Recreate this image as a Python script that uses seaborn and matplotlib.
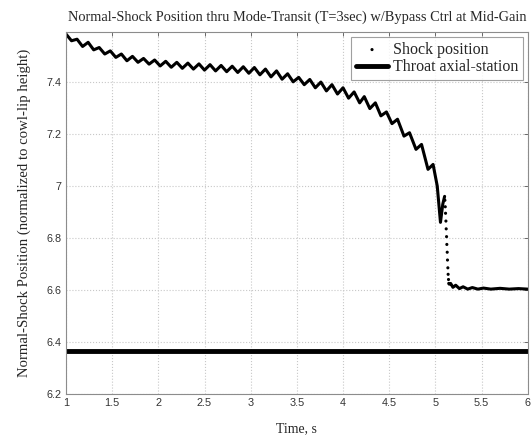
import numpy as np
import pandas as pd
import matplotlib
matplotlib.use("Agg")
import matplotlib.pyplot as plt
import seaborn as sns

# --- data (peaks / troughs of the shock trace)
osc_t = [1.00, 1.06, 1.12, 1.18, 1.24, 1.30, 1.36, 1.42, 1.48, 1.54,
         1.60, 1.66, 1.72, 1.78, 1.84, 1.90, 1.96, 2.02, 2.08, 2.14,
         2.20, 2.26, 2.32, 2.38, 2.44, 2.50, 2.56, 2.62, 2.68, 2.74,
         2.80, 2.86, 2.92, 2.98, 3.04, 3.10, 3.16, 3.22, 3.28, 3.34,
         3.40, 3.46, 3.52, 3.58, 3.64, 3.70, 3.76, 3.82, 3.88, 3.94,
         4.00, 4.06, 4.12, 4.18, 4.23, 4.29, 4.35, 4.41, 4.47, 4.53,
         4.59, 4.66, 4.72, 4.79, 4.85, 4.92, 4.975, 5.02, 5.055, 5.08, 5.10]
osc_y = [7.585, 7.559, 7.565, 7.537, 7.553, 7.524, 7.533, 7.508, 7.520, 7.495,
         7.508, 7.482, 7.499, 7.476, 7.491, 7.469, 7.485, 7.462, 7.480, 7.457,
         7.476, 7.453, 7.473, 7.450, 7.470, 7.446, 7.467, 7.443, 7.464, 7.440,
         7.461, 7.437, 7.459, 7.434, 7.456, 7.428, 7.450, 7.420, 7.443, 7.411,
         7.432, 7.401, 7.418, 7.390, 7.410, 7.378, 7.400, 7.366, 7.390, 7.354,
         7.378, 7.338, 7.362, 7.320, 7.344, 7.298, 7.320, 7.270, 7.285, 7.240,
         7.257, 7.192, 7.205, 7.141, 7.160, 7.064, 7.083, 7.000, 6.860, 6.930, 6.960]

drop_t = [5.103, 5.107, 5.110, 5.114, 5.117, 5.121, 5.124, 5.128, 5.131,
          5.135, 5.138, 5.142, 5.145]
drop_y = [6.945, 6.920, 6.895, 6.865, 6.835, 6.805, 6.775, 6.745, 6.715,
          6.685, 6.660, 6.640, 6.625]

settle_t = [5.150, 5.165, 5.19, 5.22, 5.26, 5.30, 5.35, 5.40, 5.46, 5.52,
            5.60, 5.70, 5.80, 5.90, 6.00]
settle_y = [6.622, 6.625, 6.610, 6.618, 6.605, 6.612, 6.603, 6.609, 6.603, 6.607,
            6.603, 6.606, 6.603, 6.605, 6.603]

throat_pos = 6.365
t_range = [1.0, 6.0]
x_ticks = [1, 1.5, 2, 2.5, 3, 3.5, 4, 4.5, 5, 5.5, 6]
y_ticks = [6.2, 6.4, 6.6, 6.8, 7.0, 7.2, 7.4]
y_labels = ["6.2", "6.4", "6.6", "6.8", "7", "7.2", "7.4"]

# --- figure
sns.set_theme(style="whitegrid")
plt.rcParams["font.family"] = ["Liberation Serif", "DejaVu Serif"]

fig = plt.figure(figsize=(5.32, 4.41), dpi=100)
ax = fig.add_axes([0.124, 0.107, 0.868, 0.82])

osc = pd.DataFrame({"t": osc_t, "y": osc_y})
settle = pd.DataFrame({"t": settle_t, "y": settle_y})
drop = pd.DataFrame({"t": drop_t, "y": drop_y})

line_kw = dict(sort=False, estimator=None, color="black", lw=2.2,
               solid_joinstyle="round", solid_capstyle="round", ax=ax)
sns.lineplot(data=osc, x="t", y="y", **line_kw)
sns.lineplot(data=settle, x="t", y="y", **line_kw)
sns.scatterplot(data=drop, x="t", y="y", color="black", s=5,
                edgecolor="none", ax=ax, label="Shock position")
ax.plot(t_range, [throat_pos, throat_pos], color="black", lw=3.5,
        label="Throat axial-station")

ax.set_xlim(t_range)
ax.set_ylim(6.2, 7.592)
ax.set_xticks(x_ticks)
ax.set_xticklabels([f"{v:g}" for v in x_ticks])
ax.set_yticks(y_ticks)
ax.set_yticklabels(y_labels)

ax.grid(True, color="#c8c8c8", linestyle=":", lw=0.8)
for s in ax.spines.values():
    s.set_color("#8c8c8c")
    s.set_linewidth(0.8)
ax.tick_params(direction="in", top=True, right=True, length=3, width=0.6,
               color="#555555", labelsize=7.8, labelcolor="#333333", pad=3)
for lab in ax.get_xticklabels() + ax.get_yticklabels():
    lab.set_family(["Liberation Sans", "DejaVu Sans"])

ax.set_xlabel("Time, s", fontsize=10, labelpad=10)
ax.set_ylabel("Normal-Shock Position (normalized to cowl-lip height)",
              fontsize=10.6, labelpad=11)
ax.set_title("Normal-Shock Position thru Mode-Transit (T=3sec) w/Bypass Ctrl at Mid-Gain",
             fontsize=10.4, pad=8)

leg = ax.legend(loc="upper right", fontsize=11.5, frameon=True, fancybox=False,
                handlelength=2.0, handletextpad=0.3, borderpad=0.3,
                labelspacing=0.1, borderaxespad=0.3, markerscale=1.0)
leg.get_frame().set_edgecolor("#888888")
leg.get_frame().set_linewidth(0.8)

fig.savefig("out.png", dpi=100)
